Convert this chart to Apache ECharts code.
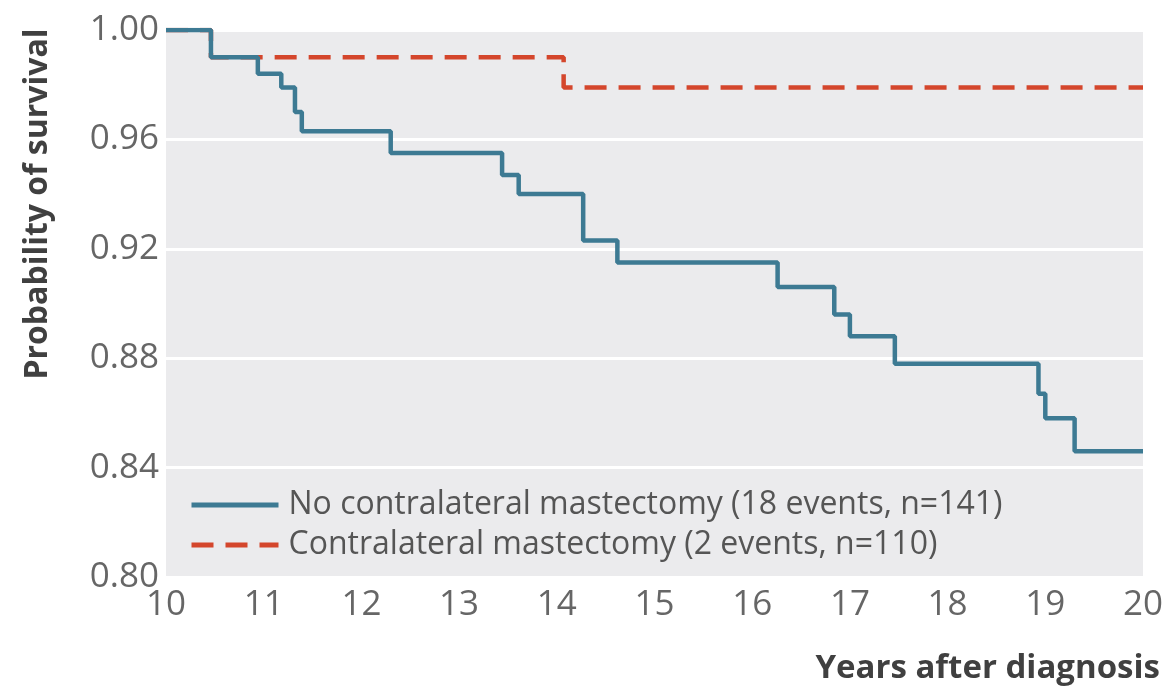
<!DOCTYPE html>
<html>
<head>
<meta charset="utf-8">
<script src="https://cdn.jsdelivr.net/npm/echarts@6/dist/echarts.min.js"></script>
<style>
  html, body { margin: 0; padding: 0; background: #ffffff; }
  #chart { width: 1170px; height: 690px; }
</style>
</head>
<body>
<div id="chart"></div>
<script>
// Kaplan-Meier survival estimates, years 10 to 20 after diagnosis
const noCmTimes = [10, 10.46, 10.94, 11.18, 11.32, 11.39, 12.30, 13.44, 13.61, 14.27, 14.62, 16.26, 16.84, 17.0, 17.46, 18.93, 19.0, 19.30, 20];
const noCmSurv  = [1.000, 0.990, 0.984, 0.979, 0.970, 0.963, 0.955, 0.947, 0.940, 0.923, 0.915, 0.906, 0.896, 0.888, 0.878, 0.867, 0.858, 0.846, 0.846];

const cmTimes = [10, 10.46, 14.07, 20];
const cmSurv  = [1.000, 0.990, 0.979, 0.979];

const seriesNames = [
  'No contralateral mastectomy (18 events, n=141)',
  'Contralateral mastectomy (2 events, n=110)'
];

const xTicks = { min: 10, max: 20, interval: 1 };
const yTicks = { min: 0.80, max: 1.00, interval: 0.04 };

const FONT = '"Open Sans", "Noto Sans", sans-serif';
const BLUE = '#3d7a93';
const RED = '#d4462c';

const pairs = (xs, ys) => xs.map((x, i) => [x, ys[i]]);

const chart = echarts.init(document.getElementById('chart'), null, { renderer: 'canvas' });

chart.setOption({
  animation: false,
  backgroundColor: '#ffffff',
  grid: {
    left: 166, right: 27, top: 30, bottom: 113,
    show: true, backgroundColor: '#ebebed', borderWidth: 0
  },
  xAxis: {
    type: 'value',
    min: xTicks.min, max: xTicks.max, interval: xTicks.interval,
    axisLine: { show: false },
    axisTick: { show: false },
    splitLine: { show: false },
    axisLabel: { color: '#666', fontSize: 35, fontFamily: FONT, margin: 11 }
  },
  yAxis: {
    type: 'value',
    min: yTicks.min, max: yTicks.max, interval: yTicks.interval,
    axisLine: { show: false },
    axisTick: { show: false },
    splitLine: { show: true, lineStyle: { color: '#ffffff', width: 3 } },
    axisLabel: {
      color: '#666', fontSize: 35, fontFamily: FONT, margin: 7,
      formatter: v => v.toFixed(2)
    }
  },
  legend: {
    orient: 'vertical',
    left: 184, top: 484,
    itemWidth: 87, itemHeight: 14, itemGap: 8,
    itemStyle: { opacity: 0 },
    lineStyle: { width: 5 },
    textStyle: { color: '#555', fontSize: 32, fontFamily: FONT, padding: [0, 0, 0, 5] },
    data: [seriesNames[0], seriesNames[1]]
  },
  series: [
    {
      name: seriesNames[1],
      type: 'line', step: 'end', symbol: 'none', z: 2,
      data: pairs(cmTimes, cmSurv),
      lineStyle: { color: RED, width: 4.5, type: [22, 12] },
      itemStyle: { color: RED }
    },
    {
      name: seriesNames[0],
      type: 'line', step: 'end', symbol: 'none', z: 3,
      data: pairs(noCmTimes, noCmSurv),
      lineStyle: { color: BLUE, width: 4.5 },
      itemStyle: { color: BLUE }
    }
  ],
  graphic: [
    {
      type: 'text', x: 38, y: 204, rotation: Math.PI / 2,
      style: {
        text: 'Probability of survival',
        font: 'bold 32px ' + FONT, fill: '#404040',
        textAlign: 'center', textVerticalAlign: 'middle'
      }
    },
    {
      type: 'text', x: 1160, y: 669,
      style: {
        text: 'Years after diagnosis',
        font: 'bold 33px ' + FONT, fill: '#404040',
        textAlign: 'right', textVerticalAlign: 'middle'
      }
    }
  ]
});
</script>
</body>
</html>
